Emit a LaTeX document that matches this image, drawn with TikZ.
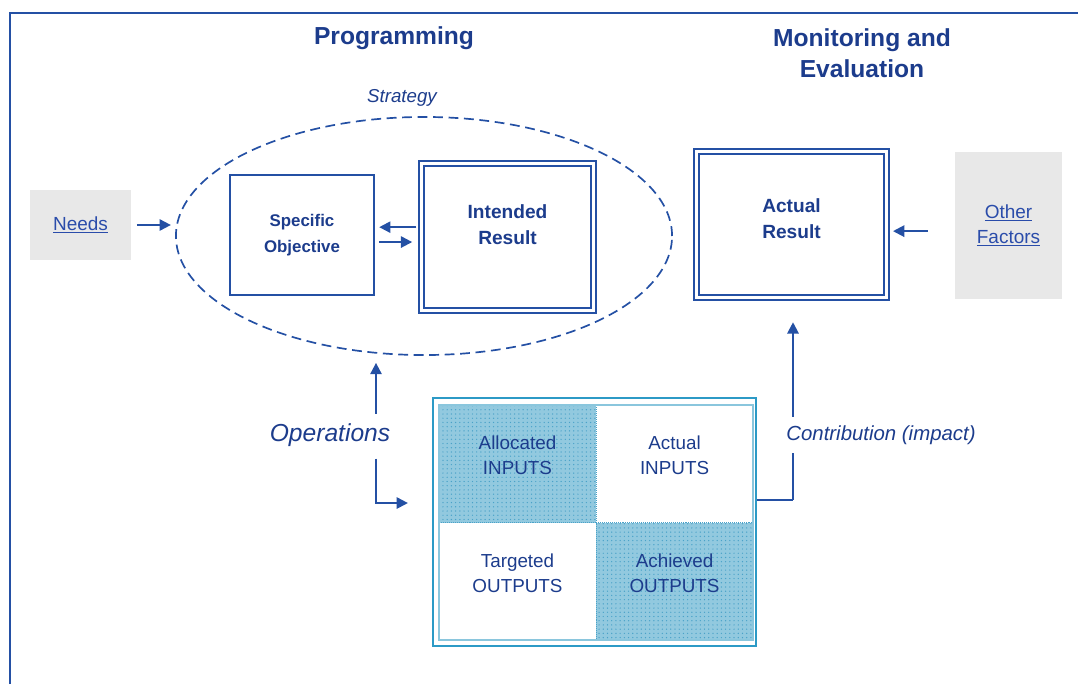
\documentclass[tikz,border=0pt]{standalone}
\usepackage{fontspec}
\setmainfont{Liberation Sans}
\usepackage{xcolor}
\usetikzlibrary{arrows.meta,positioning,shapes.geometric,patterns}
\definecolor{lineblue}{HTML}{2450A4}
\definecolor{textblue}{HTML}{1C3C8C}
\definecolor{linkblue}{HTML}{2A4CAA}
\definecolor{boxgray}{HTML}{E8E8E8}
\definecolor{ioblue}{HTML}{2C9AC6}
\definecolor{iolight}{HTML}{8AC6DD}
\definecolor{ioshade}{HTML}{92C9DF}
\definecolor{iodot}{HTML}{4AA2C8}

\begin{document}
\begin{tikzpicture}[
  x=0.025cm, y=-0.025cm, text=textblue,
  heading/.style={font=\bfseries\fontsize{17.5}{22}\selectfont, align=center},
  graybox/.style={fill=boxgray, text=linkblue, align=center, font=\fontsize{13.5}{18}\selectfont},
  objbox/.style={draw=lineblue, line width=1.4pt, minimum width=3.6cm, minimum height=3cm, align=center, font=\bfseries\fontsize{12}{18}\selectfont},
  resbox/.style={draw=lineblue, double=white, double distance=2.5pt, line width=1.2pt},
  restext/.style={align=center, font=\bfseries\fontsize{13.6}{18.4}\selectfont},
  cellbox/.style={minimum width=3.925cm, minimum height=2.9375cm, outer sep=0pt, inner sep=0pt},
  celltext/.style={align=center, yshift=6pt, font=\fontsize{13.4}{17.7}\selectfont},
  shaded/.style={fill=ioshade, postaction={pattern=dots, pattern color=iodot}, draw=iodot, densely dotted},
  sidelbl/.style={font=\itshape\fontsize{17.5}{20}\selectfont},
  flow/.style={-{Triangle[length=8pt, width=8pt]}, line width=1.4pt, draw=lineblue}
]
\useasboundingbox (0,0) rectangle (1078,684);
% frame
\draw[lineblue, line width=1.3pt] (10,684) -- (10,13) -- (1078,13);

\node[heading] (prog) at (394,38) {Programming};
\node[heading] (mne) at (862,53) {Monitoring and\\Evaluation};
\node[font=\itshape\fontsize{13.3}{16}\selectfont] (strat) at (402,98) {Strategy};

\node[draw=lineblue, ellipse, line width=1.2pt, dash pattern=on 7pt off 4pt, minimum width=12.4cm, minimum height=5.95cm] (strategy) at (424,236) {};

\node[graybox, minimum width=2.525cm, minimum height=1.75cm] (needs) at (80.5,225) {\underline{Needs}};
\node[objbox] (specobj) at (302,235) {Specific\\Objective};
\node[resbox, minimum width=4.3cm, minimum height=3.675cm, label={[restext, yshift=8.5pt]center:Intended\\Result}] (intres) at (507.5,237) {};
\node[resbox, minimum width=4.75cm, minimum height=3.65cm, label={[restext, yshift=4pt]center:Actual\\Result}] (actres) at (791.5,224.5) {};
\node[graybox, minimum width=2.675cm, minimum height=3.675cm] (other) at (1008.5,225.5) {\underline{Other}\\\underline{Factors}};

% inputs / outputs
\node[draw=ioblue, line width=1.6pt, minimum width=8.075cm, minimum height=6.2cm] (io) at (594.5,522) {};
\node[cellbox, shaded, label={[celltext]center:Allocated\\INPUTS}] (alloc) at (517.5,463.75) {};
\node[cellbox, right=0pt of alloc, label={[celltext]center:Actual\\INPUTS}] (actin) {};
\node[cellbox, below=0pt of alloc, label={[celltext]center:Targeted\\OUTPUTS}] (target) {};
\node[cellbox, shaded, right=0pt of target, label={[celltext]center:Achieved\\OUTPUTS}] (achieved) {};
\node[draw=iolight, line width=1.2pt, minimum width=7.85cm, minimum height=5.875cm] (ioin) at (596,522.5) {};

\node[sidelbl] (ops) at (330,435) {Operations};
\coordinate (opsfork) at (376,436);
\coordinate (contribturn) at (793,500);

\draw[flow, shorten <=4pt, shorten >=3pt] (needs.east) -- (needs.east -| strategy.west);
\draw[flow, shorten <=3pt, shorten >=3pt] ([yshift=7pt]intres.west) -- ([yshift=7pt]intres.west -| specobj.east);
\draw[flow, shorten <=3pt, shorten >=6pt] ([yshift=-5pt]specobj.east) -- ([yshift=-5pt]specobj.east -| intres.west);
\draw[flow, shorten <=19pt, shorten >=4pt] ([yshift=-4pt]other.west) -- ([yshift=-4pt]other.west -| actres.east);

\draw[flow, shorten >=5pt] ([yshift=16pt]opsfork) -- (opsfork |- strategy.south);
\draw[flow, shorten >=17pt] ([yshift=-16pt]opsfork) |- ([yshift=13.5pt]io.west);

\draw[flow, -] (io.east |- contribturn) -- (contribturn);
\draw[flow, shorten >=17pt] (contribturn) -- (contribturn |- actres.south);
\node[sidelbl, font=\itshape\fontsize{14.5}{18}\selectfont, fill=white, inner ysep=6pt] (contrib) at (881,435) {Contribution (impact)};
\end{tikzpicture}
\end{document}
